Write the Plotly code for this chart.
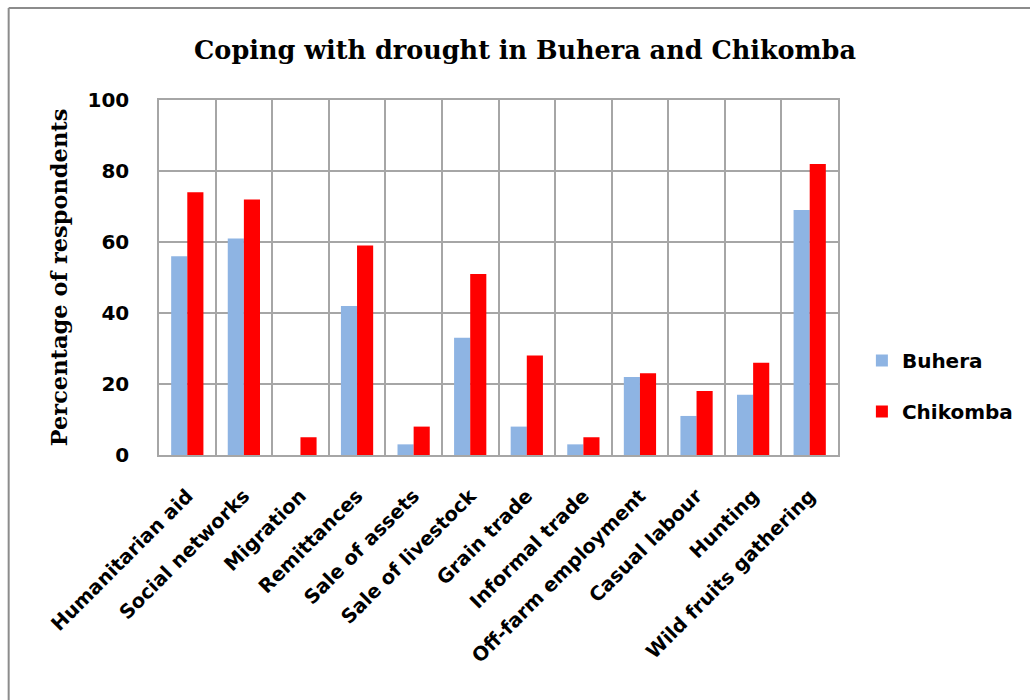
import plotly.graph_objects as go

# Coping strategies and share of respondents (%) per district
categories = [
    "Humanitarian aid", "Social networks", "Migration", "Remittances",
    "Sale of assets", "Sale of livestock", "Grain trade", "Informal trade",
    "Off-farm employment", "Casual labour", "Hunting", "Wild fruits gathering",
]
buhera = [56, 61, 0, 42, 3, 33, 8, 3, 22, 11, 17, 69]
chikomba = [74, 72, 5, 59, 8, 51, 28, 5, 23, 18, 26, 82]
y_ticks = [0, 20, 40, 60, 80, 100]

W, H = 1030, 700
L, R, T, B = 159, 189, 100, 245
pw, ph = W - L - R, H - T - B

sans = "DejaVu Sans"
serif = "DejaVu Serif"
grid = "#a6a6a6"

fig = go.Figure()
fig.add_trace(go.Bar(name="Buhera", x=categories, y=buhera,
                     marker=dict(color="#8eb4e3", line_width=0),
                     legendgroup="b"))
fig.add_trace(go.Bar(name="Chikomba", x=categories, y=chikomba,
                     marker=dict(color="#ff0000", line_width=0),
                     legendgroup="c"))

# outer chart frame (left and top edges visible)
def px_x(x):
    return (x - L) / pw

def px_y(y):
    return (H - B - y) / ph

fig.add_shape(type="line", xref="paper", yref="paper",
              x0=px_x(8), x1=px_x(8), y0=px_y(8), y1=px_y(720),
              line=dict(color="#8c8c8c", width=2))
fig.add_shape(type="line", xref="paper", yref="paper",
              x0=px_x(8), x1=px_x(1040), y0=px_y(8), y1=px_y(8),
              line=dict(color="#8c8c8c", width=2))

fig.update_layout(
    width=W, height=H,
    margin=dict(l=L, r=R, t=T, b=B, pad=0),
    paper_bgcolor="white", plot_bgcolor="white",
    barmode="group", bargap=0.43, bargroupgap=0,
    title=dict(text="Coping with drought in Buhera and Chikomba",
               font=dict(family=serif, size=25.5, color="black", weight="bold"),
               xref="container", x=525 / W, xanchor="center",
               yref="container", y=1 - 50 / H, yanchor="middle"),
    legend=dict(x=px_x(865), y=px_y(386), xanchor="left", yanchor="middle",
                font=dict(family=sans, size=20, color="black", weight="bold"),
                traceorder="grouped", tracegroupgap=22,
                bgcolor="rgba(0,0,0,0)"),
    xaxis=dict(type="category", tickson="boundaries",
               showgrid=True, gridcolor=grid, gridwidth=1.5,
               showline=True, linecolor=grid, linewidth=1.5, mirror=True,
               ticks="", tickangle=-45, ticklabelstandoff=20,
               tickfont=dict(family=sans, size=19.5, color="black", weight="bold")),
    yaxis=dict(range=[0, 100], tickvals=y_ticks,
               showgrid=True, gridcolor=grid, gridwidth=1.5,
               showline=True, linecolor=grid, linewidth=1.5, mirror=True,
               ticks="", ticklabelstandoff=24, zeroline=False,
               tickfont=dict(family=sans, size=20, color="black", weight="bold"),
               title=dict(text="Percentage of respondents",
                          font=dict(family=serif, size=22.5, color="black", weight="bold"),
                          standoff=14)),
)

fig.write_html("out.html")
